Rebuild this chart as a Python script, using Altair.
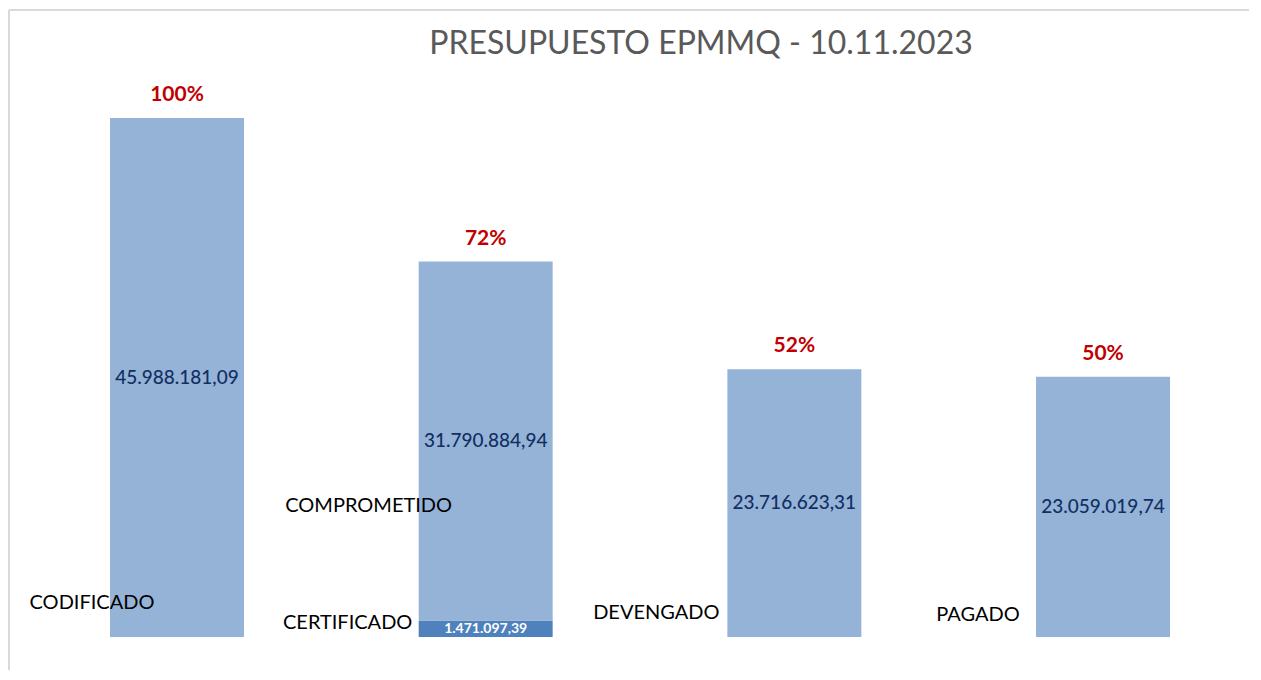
import altair as alt
import pandas as pd

# ---- data ----
categories = ["CODIFICADO", "COMPROMETIDO", "DEVENGADO", "PAGADO"]
pct_labels = ["100%", "72%", "52%", "50%"]

segment_cat = ["CODIFICADO", "COMPROMETIDO", "COMPROMETIDO", "DEVENGADO", "PAGADO"]
segment_name = ["CODIFICADO", "CERTIFICADO", "COMPROMETIDO", "DEVENGADO", "PAGADO"]
segment_value = [45988181.09, 1471097.39, 31790884.94, 23716623.31, 23059019.74]
segment_text = ["45.988.181,09", "1.471.097,39", "31.790.884,94", "23.716.623,31", "23.059.019,74"]
segment_order = [0, 0, 1, 0, 0]
segment_kind = ["main", "cert", "main", "main", "main"]

title_text = "PRESUPUESTO EPMMQ - 10.11.2023"

# ---- tables ----
seg = pd.DataFrame({
    "cat": segment_cat,
    "name": segment_name,
    "value": segment_value,
    "text": segment_text,
    "ord": segment_order,
    "kind": segment_kind,
})
totals = seg.groupby("cat", sort=False)["value"].sum().reindex(categories)
top = pd.DataFrame({"cat": categories, "total": totals.values, "pct": pct_labels})

W, H = 1240, 660
STEP = 308.67
X0 = 13.67
FONT = "Lato"

x_scale = alt.Scale(domain=categories, range=[X0, X0 + 4 * STEP],
                    paddingInner=0.566, paddingOuter=0.283)
y_scale = alt.Scale(domain=[-2924000, 55558000], nice=False, zero=False)

x_enc = alt.X("cat:N", scale=x_scale, axis=None, sort=categories)

base = alt.Chart(seg)

bars = base.mark_bar(stroke=None).encode(
    x=x_enc,
    y=alt.Y("value:Q", stack="zero", scale=y_scale, axis=None),
    color=alt.Color("kind:N", scale=alt.Scale(domain=["main", "cert"],
                                              range=["#95B3D7", "#4F81BD"]), legend=None),
    order=alt.Order("ord:Q"),
)

stacked = base.transform_stack(
    stack="value", groupby=["cat"], as_=["v0", "v1"],
    sort=[alt.SortField("ord", order="ascending")]
).transform_calculate(mid="(datum.v0 + datum.v1) / 2")

value_main = stacked.transform_filter("datum.kind == 'main'").mark_text(
    font=FONT, fontSize=19, fontWeight=500, color="#112F63", baseline="middle", align="center"
).encode(x=x_enc, y=alt.Y("mid:Q", scale=y_scale, axis=None), text="text:N")

value_cert = stacked.transform_filter("datum.kind == 'cert'").mark_text(
    font=FONT, fontSize=14, fontWeight="bold", color="white", baseline="middle", align="center"
).encode(x=x_enc, y=alt.Y("mid:Q", scale=y_scale, axis=None), text="text:N")

pct = alt.Chart(top).mark_text(
    font=FONT, fontSize=21, fontWeight="bold", color="#C00000",
    baseline="middle", align="center", dy=-23
).encode(x=x_enc, y=alt.Y("total:Q", scale=y_scale, axis=None), text="pct:N")

# category name labels placed left of bars (style offsets)
label_dx = {"CODIFICADO": -85, "COMPROMETIDO": -117, "CERTIFICADO": -138,
            "DEVENGADO": -138, "PAGADO": -125}
label_dy = {"CODIFICADO": -34, "COMPROMETIDO": -131, "CERTIFICADO": -14,
            "DEVENGADO": -24, "PAGADO": -22}
label_layers = []
for nm in segment_name:
    label_layers.append(
        base.transform_filter(alt.datum.name == nm).transform_calculate(zero="0").mark_text(
            font=FONT, fontSize=20, color="#000000", baseline="middle", align="center",
            dx=label_dx[nm], dy=label_dy[nm]
        ).encode(x=x_enc, y=alt.Y("zero:Q", scale=y_scale, axis=None), text="name:N")
    )

title = alt.Chart(pd.DataFrame({"t": [title_text]})).mark_text(
    font=FONT, fontSize=32, color="#595959", baseline="middle", align="center"
).encode(x=alt.value(692), y=alt.value(34), text="t:N")

frame_left = alt.Chart(pd.DataFrame({"a": [0]})).mark_rule(color="#D9D9D9", strokeWidth=2).encode(
    x=alt.value(0), y=alt.value(0), y2=alt.value(H + 30))
frame_top = alt.Chart(pd.DataFrame({"a": [0]})).mark_rule(color="#D9D9D9", strokeWidth=2).encode(
    y=alt.value(0), x=alt.value(0), x2=alt.value(W + 30))

chart = alt.layer(
    frame_left, frame_top, bars, value_main, value_cert, pct, *label_layers, title
).properties(
    width=W, height=H, padding={"left": 1, "top": 2, "right": 0, "bottom": 0},
    autosize=alt.AutoSizeParams(type="none")
).configure_view(stroke=None).configure(background="white")

chart.save("out.html", embed_options={"renderer": "svg", "actions": False})
